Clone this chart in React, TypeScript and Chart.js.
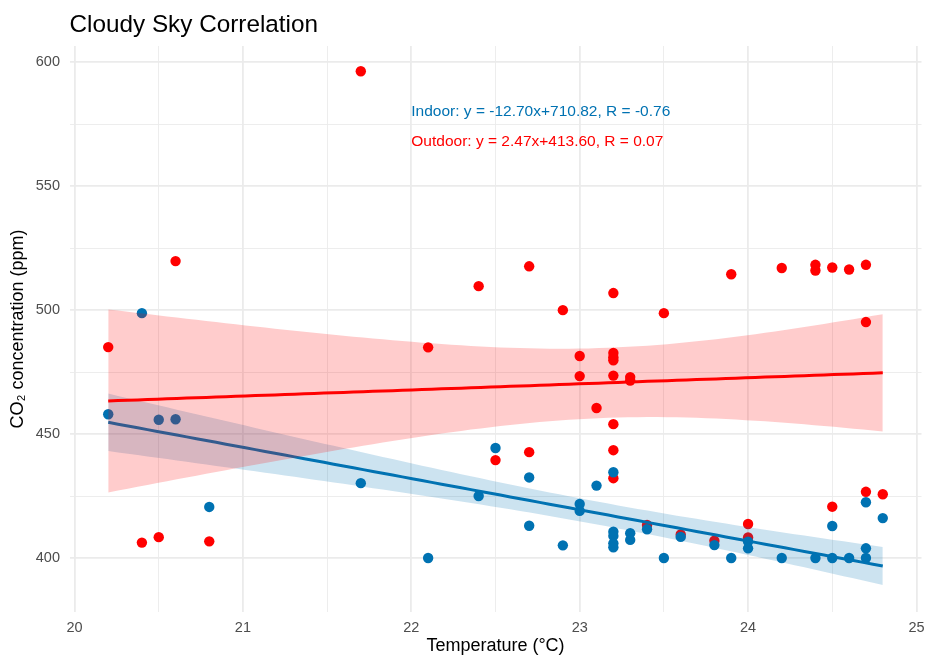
import React, { useEffect, useRef } from "react";
import { Chart, registerables } from "chart.js";

Chart.register(...registerables);

// ---------- data ----------
const indoorTemp = [
  20.2, 20.4, 20.5, 20.6, 20.8, 21.7, 22.1, 22.4, 22.5, 22.7, 22.7, 22.9, 23.0, 23.0, 23.1,
  23.2, 23.2, 23.2, 23.2, 23.2, 23.3, 23.3, 23.4, 23.5, 23.6, 23.8, 23.9, 24.0, 24.0, 24.2,
  24.4, 24.5, 24.6, 24.7, 24.7, 24.5, 24.7, 24.8,
];
const indoorCO2 = [
  458.0, 498.8, 455.8, 456.0, 420.6, 430.2, 400.0, 425.0, 444.4, 432.5, 413.0, 405.1, 421.8, 419.0, 429.2,
  434.6, 410.6, 408.9, 405.9, 404.3, 410.0, 407.3, 411.6, 400.0, 408.5, 405.2, 400.0, 406.6, 403.9, 400.0,
  400.0, 400.0, 400.0, 400.0, 403.9, 412.9, 422.5, 416.1,
];
const outdoorTemp = [
  20.2, 20.4, 20.5, 20.6, 20.8, 21.7, 22.1, 22.4, 22.5, 22.7, 22.7, 22.9, 23.0, 23.0, 23.1,
  23.2, 23.2, 23.2, 23.2, 23.2, 23.2, 23.2, 23.2, 23.3, 23.3, 23.4, 23.5, 23.6, 23.8, 23.9,
  24.0, 24.0, 24.2, 24.4, 24.4, 24.5, 24.6, 24.7, 24.7, 24.5, 24.7, 24.8,
];
const outdoorCO2 = [
  485.1, 406.2, 408.4, 519.8, 406.7, 596.4, 485.0, 509.7, 439.5, 517.7, 442.7, 500.0, 481.5, 473.4, 460.5,
  506.9, 482.7, 481.0, 479.8, 473.6, 454.0, 443.5, 432.2, 473.0, 471.6, 413.3, 498.8, 409.5, 407.0, 514.5,
  413.7, 408.3, 517.0, 518.3, 516.0, 517.2, 516.4, 518.3, 495.2, 420.7, 426.7, 425.7,
];

const xMajorTicks = [20, 21, 22, 23, 24, 25];
const xMinorTicks = [20.5, 21.5, 22.5, 23.5, 24.5];
const yMajorTicks = [400, 450, 500, 550, 600];
const yMinorTicks = [425, 475, 525, 575];

const titleText = "Cloudy Sky Correlation";
const xTitle = "Temperature (°C)";
const yTitle = "CO₂ concentration (ppm)";

const indoorLabel = "Indoor: y = -12.70x+710.82, R = -0.76";
const outdoorLabel = "Outdoor: y = 2.47x+413.60, R = 0.07";
const labelX = [22.0, 22.0];
const labelY = [580, 568];

const BLUE = "#0072B2";
const RED = "#FF0000";
const FONT = '"Liberation Sans", Arial, Helvetica, sans-serif';

// ---------- linear fit with 95% confidence band ----------
function fitBand(xs: number[], ys: number[]) {
  const n = xs.length;
  const mx = xs.reduce((a, b) => a + b, 0) / n;
  const my = ys.reduce((a, b) => a + b, 0) / n;
  let sxx = 0;
  let sxy = 0;
  for (let i = 0; i < n; i++) {
    sxx += (xs[i] - mx) ** 2;
    sxy += (xs[i] - mx) * (ys[i] - my);
  }
  const b = sxy / sxx;
  const a = my - b * mx;
  let sse = 0;
  for (let i = 0; i < n; i++) sse += (ys[i] - (a + b * xs[i])) ** 2;
  const df = n - 2;
  const s = Math.sqrt(sse / df);
  const t = 1.96 + 2.37 / df + 2.8 / (df * df);
  const xmin = Math.min(...xs);
  const xmax = Math.max(...xs);
  const line: { x: number; y: number }[] = [];
  const upper: { x: number; y: number }[] = [];
  const lower: { x: number; y: number }[] = [];
  const steps = 80;
  for (let i = 0; i < steps; i++) {
    const x = xmin + ((xmax - xmin) * i) / (steps - 1);
    const yh = a + b * x;
    const se = s * Math.sqrt(1 / n + (x - mx) ** 2 / sxx);
    line.push({ x, y: yh });
    upper.push({ x, y: yh + t * se });
    lower.push({ x, y: yh - t * se });
  }
  return { line, upper, lower };
}

const textPlugin = {
  id: "customTexts",
  afterDatasetsDraw(chart: any) {
    const { ctx, scales, chartArea } = chart;
    const xs = scales.x;
    const ys = scales.y;
    ctx.save();
    ctx.font = `15.5px ${FONT}`;
    ctx.textAlign = "left";
    ctx.textBaseline = "middle";
    ctx.fillStyle = BLUE;
    ctx.fillText(indoorLabel, xs.getPixelForValue(labelX[0]), ys.getPixelForValue(labelY[0]));
    ctx.fillStyle = RED;
    ctx.fillText(outdoorLabel, xs.getPixelForValue(labelX[1]), ys.getPixelForValue(labelY[1]));
    ctx.font = `24.3px ${FONT}`;
    ctx.fillStyle = "#000000";
    ctx.textBaseline = "alphabetic";
    ctx.fillText(titleText, chartArea.left, 32);
    ctx.restore();
  },
};

export default function App() {
  const ref = useRef<HTMLCanvasElement | null>(null);

  useEffect(() => {
    document.body.style.margin = "0";
    const canvas = ref.current;
    if (!canvas) return;

    const indoorPts = indoorTemp.map((x, i) => ({ x, y: indoorCO2[i] }));
    const outdoorPts = outdoorTemp.map((x, i) => ({ x, y: outdoorCO2[i] }));
    const fi = fitBand(indoorTemp, indoorCO2);
    const fo = fitBand(outdoorTemp, outdoorCO2);

    const lineBase = { type: "line", pointRadius: 0, tension: 0, showLine: true };

    const chart = new Chart(canvas, {
      type: "scatter",
      data: {
        datasets: [
          // index 0 is drawn last (on top)
          { ...lineBase, data: fo.line, borderColor: RED, borderWidth: 3, fill: false },
          { ...lineBase, data: fo.upper, borderWidth: 0, borderColor: "rgba(0,0,0,0)", backgroundColor: "rgba(255,0,0,0.2)", fill: "+1" },
          { ...lineBase, data: fo.lower, borderWidth: 0, borderColor: "rgba(0,0,0,0)", fill: false },
          { ...lineBase, data: fi.line, borderColor: BLUE, borderWidth: 3, fill: false },
          { ...lineBase, data: fi.upper, borderWidth: 0, borderColor: "rgba(0,0,0,0)", backgroundColor: "rgba(0,114,178,0.2)", fill: "+1" },
          { ...lineBase, data: fi.lower, borderWidth: 0, borderColor: "rgba(0,0,0,0)", fill: false },
          { data: indoorPts, backgroundColor: BLUE, borderWidth: 0, pointRadius: 5.2 },
          { data: outdoorPts, backgroundColor: RED, borderWidth: 0, pointRadius: 5.2 },
        ] as any,
      },
      options: {
        animation: false,
        responsive: false,
        devicePixelRatio: 1,
        layout: { autoPadding: false, padding: { left: 0, right: 3.5, top: 46, bottom: 0 } },
        plugins: {
          legend: { display: false },
          tooltip: { enabled: false },
          title: { display: false },
        },
        scales: {
          x: {
            type: "linear",
            min: 19.97,
            max: 25.03,
            afterFit: (s: any) => {
              s.height = 45;
              s.paddingLeft = 0;
              s.paddingRight = 0;
            },
            afterBuildTicks: (s: any) => {
              s.ticks = [...xMajorTicks, ...xMinorTicks].sort((a, b) => a - b).map((v) => ({ value: v }));
            },
            ticks: {
              autoSkip: false,
              maxRotation: 0,
              padding: 7.5,
              color: "#4D4D4D",
              font: { family: FONT, size: 14.5 },
              callback: (v: any) => (xMajorTicks.includes(Number(v)) ? String(v) : ""),
            },
            grid: {
              drawTicks: false,
              color: "#EBEBEB",
              lineWidth: (c: any) => (xMajorTicks.includes(c.tick?.value) ? 1.8 : 0.9),
            },
            border: { display: false },
            title: {
              display: true,
              text: xTitle,
              color: "#000000",
              font: { family: FONT, size: 18 },
              padding: { top: 0, bottom: 0 },
            },
          },
          y: {
            type: "linear",
            min: 378.2,
            max: 606.6,
            afterFit: (s: any) => {
              s.width = 69.5;
              s.paddingTop = 0;
              s.paddingBottom = 0;
            },
            afterBuildTicks: (s: any) => {
              s.ticks = [...yMajorTicks, ...yMinorTicks].sort((a, b) => a - b).map((v) => ({ value: v }));
            },
            ticks: {
              autoSkip: false,
              padding: 9.5,
              color: "#4D4D4D",
              font: { family: FONT, size: 14.5 },
              callback: (v: any) => (yMajorTicks.includes(Number(v)) ? String(v) : ""),
            },
            grid: {
              drawTicks: false,
              color: "#EBEBEB",
              lineWidth: (c: any) => (yMajorTicks.includes(c.tick?.value) ? 1.8 : 0.9),
            },
            border: { display: false },
            title: {
              display: true,
              text: yTitle,
              color: "#000000",
              font: { family: FONT, size: 18 },
              padding: { top: 7.2, bottom: 0 },
            },
          },
        },
      } as any,
      plugins: [textPlugin],
    });

    return () => chart.destroy();
  }, []);

  return (
    <div style={{ width: 925, height: 657, background: "#ffffff" }}>
      <canvas ref={ref} width={925} height={657} style={{ display: "block" }} />
    </div>
  );
}
